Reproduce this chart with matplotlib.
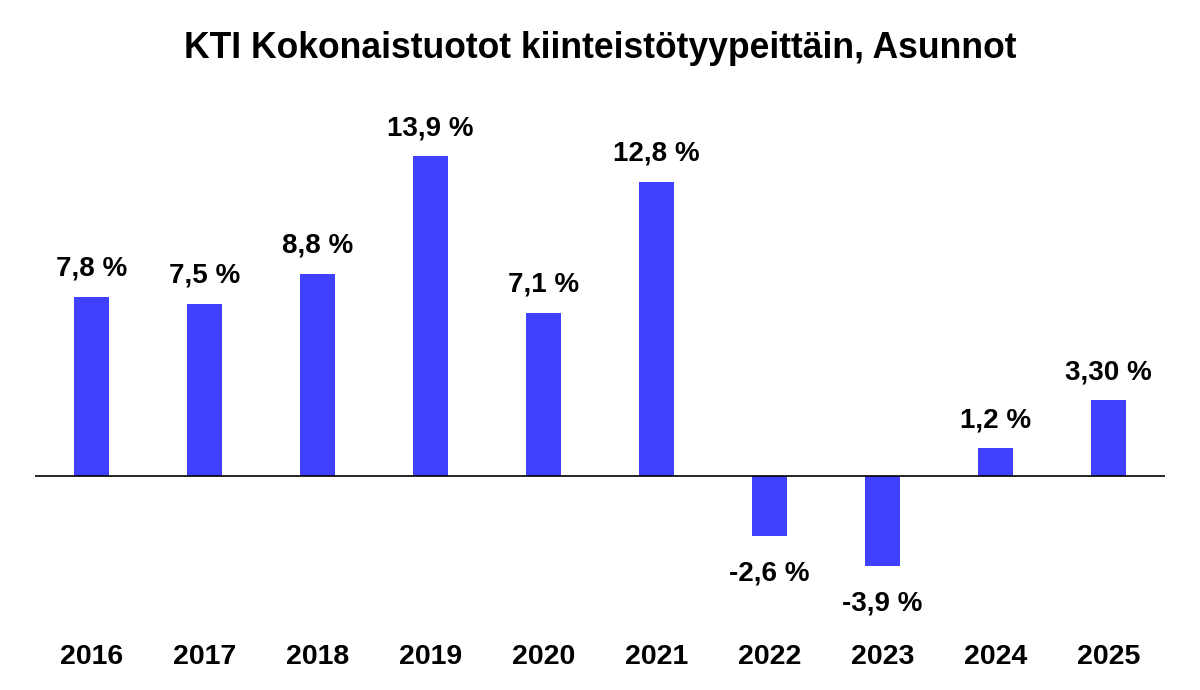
import matplotlib
matplotlib.use("Agg")
import matplotlib.pyplot as plt
from matplotlib.transforms import blended_transform_factory

years = ["2016", "2017", "2018", "2019", "2020", "2021", "2022", "2023", "2024", "2025"]
returns = [7.8, 7.5, 8.8, 13.9, 7.1, 12.8, -2.6, -3.9, 1.2, 3.30]
labels = ["7,8 %", "7,5 %", "8,8 %", "13,9 %", "7,1 %", "12,8 %", "-2,6 %", "-3,9 %", "1,2 %", "3,30 %"]

plt.rcParams['font.family'] = ['Liberation Sans', 'DejaVu Sans']

fig = plt.figure(figsize=(12, 6.9), dpi=100)
ax = fig.add_axes([35 / 1200, 90 / 690, 1130 / 1200, 500 / 690])

x = range(len(years))
ax.bar(x, returns, width=0.31, color="#4040ff")
ax.axhline(0, color="black", linewidth=1.2)

for i, v in enumerate(returns):
    if v >= 0:
        ax.annotate(labels[i], (i, v), xytext=(0, 20), textcoords="offset points",
                    ha="center", va="center", fontsize=20, fontweight="bold")
    else:
        ax.annotate(labels[i], (i, v), xytext=(0, -27), textcoords="offset points",
                    ha="center", va="center", fontsize=20, fontweight="bold")

# year labels under the plot
trans = blended_transform_factory(ax.transData, fig.transFigure)
for i, yr in enumerate(years):
    ax.text(i, 1 - 657 / 690, yr, transform=trans, ha="center", va="center",
            fontsize=20.5, fontweight="bold")

ax.set_xlim(-0.5, 9.5)
ax.set_ylim(-5.39, 16.35)
ax.set_xticks([])
ax.set_yticks([])
for s in ax.spines.values():
    s.set_visible(False)

fig.suptitle("KTI Kokonaistuotot kiinteistötyypeittäin, Asunnot", x=0.5, y=1 - 49 / 690,
             va="center", fontsize=25.6, fontweight="bold")

fig.savefig("out.png", dpi=100)
